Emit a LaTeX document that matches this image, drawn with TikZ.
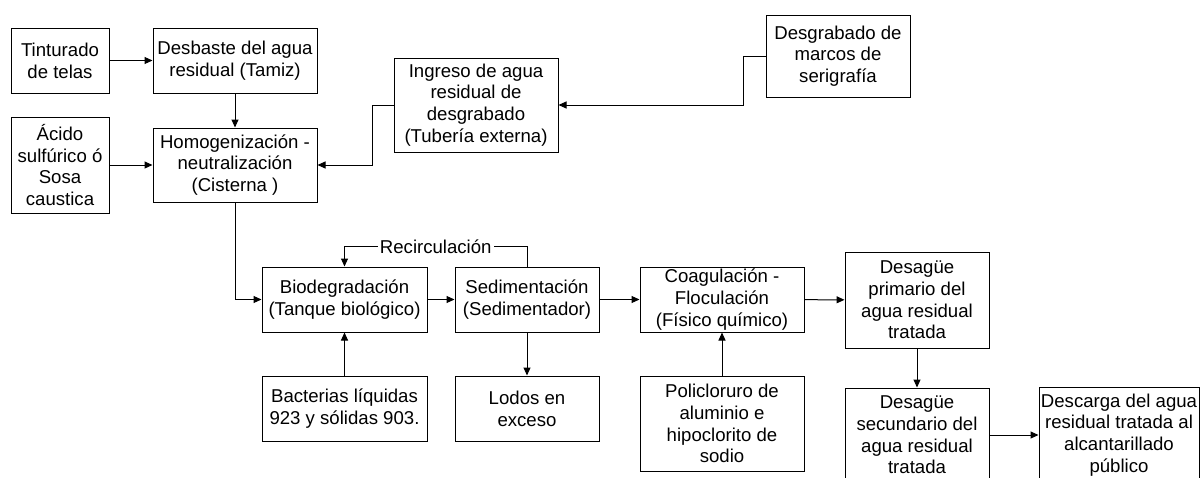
\documentclass[tikz,border=0pt]{standalone}
\usepackage{fontspec}
\setmainfont{Liberation Sans}
\usetikzlibrary{arrows.meta}
\begin{document}
\begin{tikzpicture}[x=1pt,y=-1pt,
    box/.style={draw,line width=1pt,inner sep=0pt,align=center,
        font=\fontsize{18.6}{21.7}\selectfont},
    arr/.style={line width=1pt,-{Triangle[length=8pt,width=7pt]}},
    lbl/.style={fill=white,inner sep=2pt,font=\fontsize{18.6}{21.7}\selectfont}]
    \useasboundingbox (0,0) rectangle (1202,477);
    % fila superior
    \node[box,minimum width=98pt,minimum height=65pt] (tint) at (60,60.5) {Tinturado\\de telas};
    \node[box,minimum width=164pt,minimum height=65pt] (desb) at (235,60.5) {Desbaste del agua\\residual (Tamiz)};
    \node[box,minimum width=98pt,minimum height=96pt] (acido) at (60,165) {Ácido\\sulfúrico ó\\Sosa\\caustica};
    \node[box,minimum width=164pt,minimum height=74pt] (homog) at (235,165) {Homogenización -\\neutralización\\(Cisterna )};
    \node[box,minimum width=164pt,minimum height=94pt] (ingreso) at (476,105) {Ingreso de agua\\residual de\\desgrabado\\(Tubería externa)};
    \node[box,minimum width=144pt,minimum height=82pt] (desgr) at (838,56) {Desgrabado de\\marcos de\\serigrafía};
    % tratamiento
    \node[box,minimum width=165pt,minimum height=65pt] (bio) at (344.5,299.5) {Biodegradación\\(Tanque biológico)};
    \node[box,minimum width=144pt,minimum height=65pt] (sed) at (527,299.5) {Sedimentación\\(Sedimentador)};
    \node[box,minimum width=164pt,minimum height=65pt] (coag) at (722,299.5) {Coagulación -\\Floculación\\(Físico químico)};
    \node[box,minimum width=144pt,minimum height=96pt] (desprim) at (917,300) {Desagüe\\primario del\\agua residual\\tratada};
    \node[box,minimum width=165pt,minimum height=65pt] (bact) at (344.5,408.5) {Bacterias líquidas\\923 y sólidas 903.};
    \node[box,minimum width=144pt,minimum height=65pt] (lodos) at (527,408.5) {Lodos en\\exceso};
    \node[box,minimum width=164pt,minimum height=95pt] (polic) at (722,423.5) {Policloruro de\\aluminio e\\hipoclorito de\\sodio};
    \node[box,minimum width=144pt,minimum height=94pt] (dessec) at (917,435) {Desagüe\\secundario del\\agua residual\\tratada};
    \node[box,minimum width=160pt,minimum height=96pt] (desc) at (1119,435) {Descarga del agua\\residual tratada al\\alcantarillado\\público};
    % conexiones
    \draw[arr] (tint) -- (desb);
    \draw[arr] (desb) -- (homog);
    \draw[arr] (acido) -- (homog);
    \draw[arr] (ingreso.west) -- ++(-21,0) |- (homog);
    \draw[arr] (desgr.west) -- ++(-22,0) |- (ingreso);
    \draw[arr] (homog) |- (bio);
    \draw[arr] (bio) -- (sed);
    \draw[arr] (sed) -- (coag);
    \draw[arr] (coag) -- (desprim);
    \draw[arr] (sed.north) -- ++(0,-20) -| node[lbl,pos=0.25] {Recirculación} (bio.north);
    \draw[arr] (bact) -- (bio);
    \draw[arr] (sed) -- (lodos);
    \draw[arr] (polic) -- (coag);
    \draw[arr] (desprim) -- (dessec);
    \draw[arr] (dessec) -- (desc);
\end{tikzpicture}
\end{document}
